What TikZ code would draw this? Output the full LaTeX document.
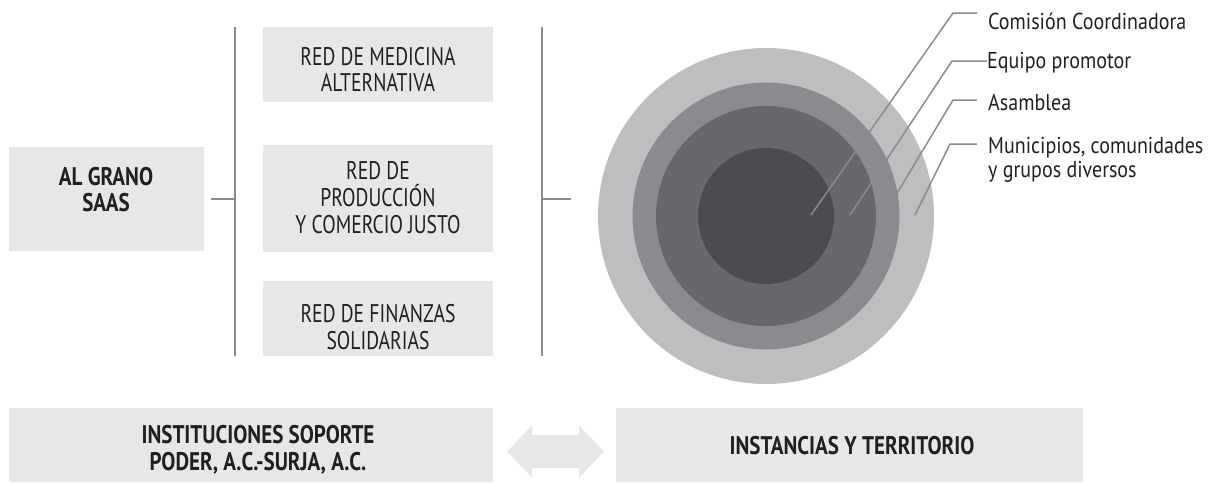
\documentclass[tikz,border=0pt]{standalone}
\usepackage{fontspec}
\setmainfont{PT Sans}[FakeStretch=0.77]
\newfontfamily\headfont{PT Sans}[FakeStretch=0.825]
\newfontfamily\tagfont{PT Sans}[FakeStretch=0.87]
\usetikzlibrary{positioning}
\definecolor{panel}{HTML}{E6E7E8}
\definecolor{ink}{HTML}{231F20}
\definecolor{rulegray}{HTML}{8A8B8E}
\definecolor{ringa}{HTML}{BCBEC0}
\definecolor{ringb}{HTML}{8A8B8F}
\definecolor{ringc}{HTML}{67686C}
\definecolor{ringd}{HTML}{4B4C50}

\begin{document}
\begin{tikzpicture}[x=1pt,y=-1pt,
  panelbox/.style={fill=panel,draw=none,inner sep=0pt},
  boxtext/.style={text=ink,align=center,inner sep=0pt,font=\fontsize{25.5}{26.7}\selectfont},
  boldtext/.style={boxtext,font=\headfont\fontsize{25.5}{26.7}\selectfont\bfseries},
  tag/.style={text=ink,align=left,inner sep=0pt,anchor=base west,font=\tagfont\fontsize{23}{24}\selectfont},
  rule/.style={rulegray,line width=2pt},
  lead/.style={rulegray,line width=1.5pt}]
\useasboundingbox (0,0) rectangle (1215,482);

\node[panelbox,minimum width=195,minimum height=104] (grano) at (106.5,199) {};
\node[panelbox,minimum width=230,minimum height=75] (med) at (378,64.5) {};
\node[panelbox,minimum width=230,minimum height=107] (prod) at (378,198.5) {};
\node[panelbox,minimum width=230,minimum height=75] (fin) at (378,318.5) {};
\node[panelbox,minimum width=484,minimum height=74] (inst) at (251,445) {};
\node[panelbox,minimum width=467,minimum height=74] (terr) at (849.5,445) {};

\node[boldtext] at (106,189.5) {AL GRANO\\SAAS};
\node[boxtext] at (378,69.5) {RED DE MEDICINA\\ALTERNATIVA};
\node[boxtext] at (378,197.5) {RED DE\\PRODUCCIÓN\\Y COMERCIO JUSTO};
\node[boxtext] at (378,327) {RED DE FINANZAS\\SOLIDARIAS};
\node[boldtext] at (258,449.5) {INSTITUCIONES SOPORTE\\PODER, A.C.-SURJA, A.C.};
\node[boldtext] at (852,446) {INSTANCIAS Y TERRITORIO};

\coordinate (lt) at (235,27);
\coordinate (lb) at (235,356);
\coordinate (rt) at (542,27);
\coordinate (rb) at (542,356);
\coordinate (rc) at (571,199);
\draw[rule] (lt) -- (lb);
\draw[rule] (rt) -- (rb);
\draw[rule] ([xshift=7pt]grano.east) -- (grano.east -| lt);
\draw[rule] (rc -| rt) -- (rc);

\coordinate (hub) at (766,216);
\fill[ringa] (hub) circle (168);
\fill[ringb] (hub) circle (133.5);
\fill[ringc] (hub) circle (110);
\fill[ringd] (hub) circle (68);

\node[tag] (comision) at (988,29) {Comisión Coordinadora};
\node[tag] (equipo) at (987,68) {Equipo promotor};
\node[tag] (asamblea) at (988,110) {Asamblea};
\node[tag] (municipios) at (988,177) {Municipios, comunidades\\y grupos diversos};

\coordinate (k1) at (953,13);
\coordinate (k2) at (952,61);
\coordinate (k3) at (953,100);
\coordinate (k4) at (950,144);
\draw[lead,shorten >=11pt] (811,215) -- (k1) -- (k1 -| comision.west);
\draw[lead] (850,215) -- (k2) -- (k2 -| equipo.west);
\draw[lead,shorten >=11pt] (884,215) -- (k3) -- (k3 -| asamblea.west);
\draw[lead,shorten >=11pt] (915,215) -- (k4) -- (k4 -| municipios.west);

\coordinate (dbl) at (555.5,451.5);
\fill[panel,shift={(dbl)}] (-48.5,0) -- (-23.5,-26) -- (-23.5,-16.5) -- (23.5,-16.5) -- (23.5,-26) -- (48.5,0)
  -- (23.5,26) -- (23.5,16.5) -- (-23.5,16.5) -- (-23.5,26) -- cycle;
\end{tikzpicture}
\end{document}
